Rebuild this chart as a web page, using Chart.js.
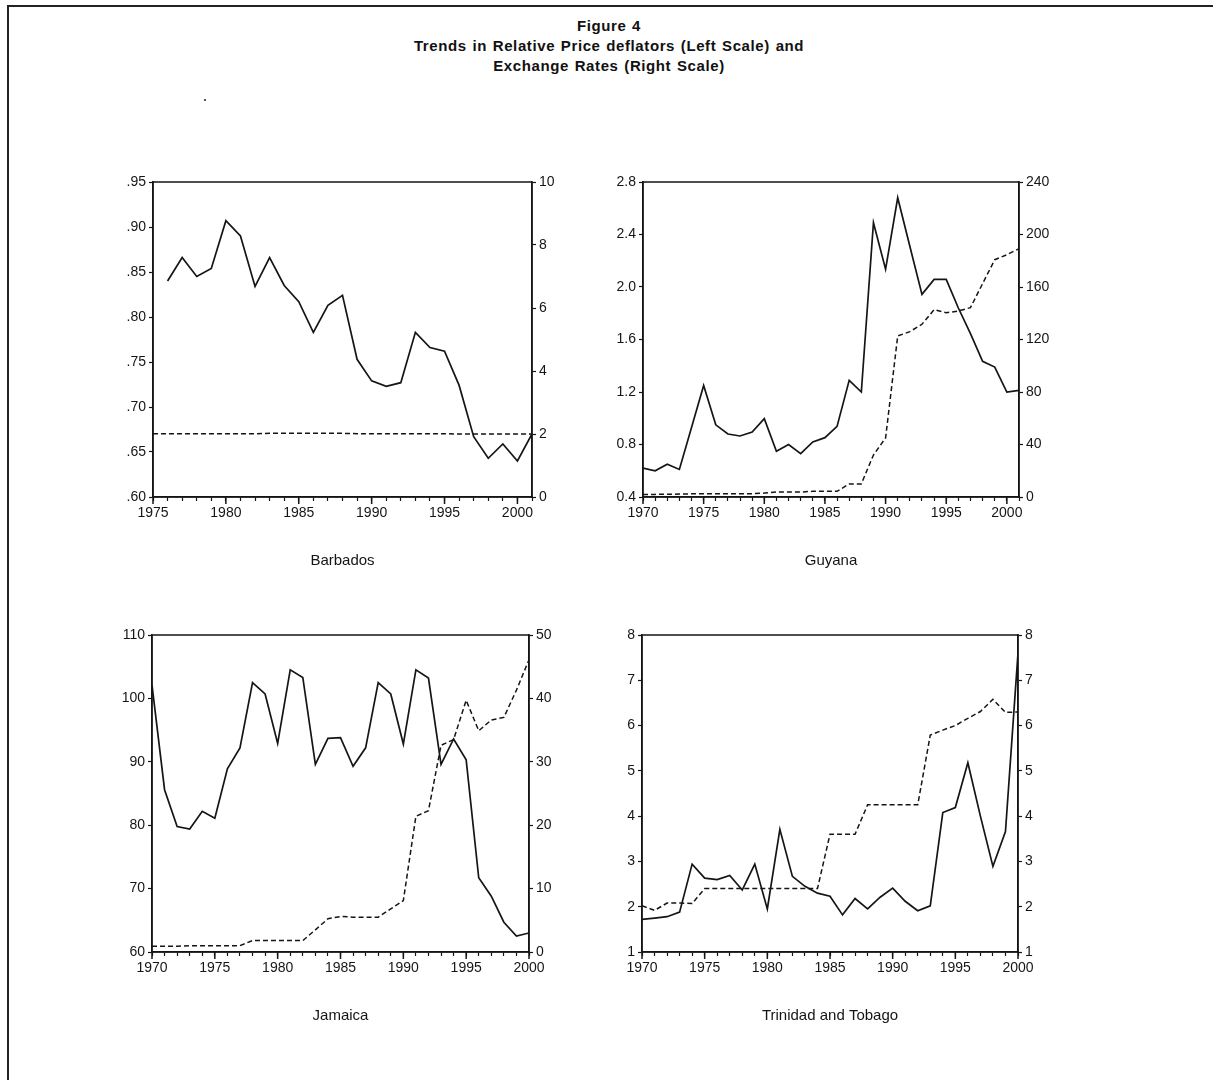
<!DOCTYPE html>
<html>
<head>
<meta charset="utf-8">
<script src="https://cdn.jsdelivr.net/npm/chart.js@4.4.1/dist/chart.umd.min.js"></script>
<style>
    body { margin: 0; background: #fff; width: 1213px; height: 1080px; position: relative; overflow: hidden; font-family: 'Liberation Sans', Arial, sans-serif; }
    #frame { position: absolute; left: 7px; top: 5px; width: 1230px; height: 1100px; border-top: 2px solid #222; border-left: 2px solid #222; }
    #title { position: absolute; left: 0; width: 1218px; top: 16px; text-align: center; font-weight: bold; font-size: 15px; line-height: 20px; letter-spacing: 0.6px; word-spacing: 1px; color: #111; }
    #speck { position: absolute; left: 204px; top: 99px; width: 2px; height: 2px; background: #555; }
    canvas { position: absolute; }
</style>
</head>
<body>
<div id="frame"></div>
<div id="title">Figure 4<br>Trends in Relative Price deflators (Left Scale) and<br>Exchange Rates (Right Scale)</div>
<div id="speck"></div>
<canvas id="barbados"></canvas>
<canvas id="guyana"></canvas>
<canvas id="jamaica"></canvas>
<canvas id="trinidad"></canvas>
<script>
// Years on the x axis
const yearsBarbados = [1975, 1976, 1977, 1978, 1979, 1980, 1981, 1982, 1983, 1984, 1985, 1986, 1987, 1988, 1989,
    1990, 1991, 1992, 1993, 1994, 1995, 1996, 1997, 1998, 1999, 2000, 2001];
const yearsGuyana = [1970, 1971, 1972, 1973, 1974, 1975, 1976, 1977, 1978, 1979, 1980, 1981, 1982, 1983, 1984, 1985,
    1986, 1987, 1988, 1989, 1990, 1991, 1992, 1993, 1994, 1995, 1996, 1997, 1998, 1999, 2000, 2001];
const yearsJamaica = [1970, 1971, 1972, 1973, 1974, 1975, 1976, 1977, 1978, 1979, 1980, 1981, 1982, 1983, 1984, 1985,
    1986, 1987, 1988, 1989, 1990, 1991, 1992, 1993, 1994, 1995, 1996, 1997, 1998, 1999, 2000];
const yearsTrinidad = [1970, 1971, 1972, 1973, 1974, 1975, 1976, 1977, 1978, 1979, 1980, 1981, 1982, 1983, 1984, 1985,
    1986, 1987, 1988, 1989, 1990, 1991, 1992, 1993, 1994, 1995, 1996, 1997, 1998, 1999, 2000];

// Relative price deflators (solid, left scale)
const barbadosDeflator = [null, 0.840, 0.866, 0.845, 0.854, 0.907, 0.890, 0.834, 0.866, 0.835, 0.817, 0.783, 0.813, 0.824,
    0.753, 0.729, 0.723, 0.727, 0.783, 0.766, 0.762, 0.724, 0.667, 0.643, 0.659, 0.640, 0.670];
const guyanaDeflator = [0.62, 0.60, 0.65, 0.61, 0.93, 1.25, 0.95, 0.88, 0.865, 0.895, 0.997, 0.748, 0.80, 0.73, 0.82, 0.852,
    0.938, 1.289, 1.20, 2.49, 2.135, 2.68, 2.31, 1.944, 2.058, 2.058, 1.84, 1.644, 1.434, 1.39, 1.20, 1.213];
const jamaicaDeflator = [102.1, 85.6, 79.8, 79.4, 82.2, 81.1, 88.9, 92.2, 102.5, 100.7, 92.9, 104.5, 103.3, 89.6, 93.7, 93.8,
    89.3, 92.2, 102.5, 100.7, 92.8, 104.5, 103.2, 89.6, 93.6, 90.3, 71.7, 68.8, 64.7, 62.5, 63.0];
const trinidadDeflator = [1.72, 1.75, 1.78, 1.88, 2.94, 2.63, 2.60, 2.69, 2.37, 2.94, 1.95, 3.71, 2.67, 2.45, 2.30, 2.23,
    1.82, 2.18, 1.95, 2.21, 2.41, 2.12, 1.91, 2.02, 4.08, 4.19, 5.18, 4.00, 2.89, 3.66, 7.60];

// Exchange rates (dashed, right scale)
const barbadosRate = [2.01, 2.01, 2.01, 2.01, 2.01, 2.01, 2.01, 2.01, 2.02, 2.02, 2.02, 2.02, 2.02, 2.02, 2.01, 2.01,
    2.01, 2.01, 2.01, 2.01, 2.01, 2.00, 2.00, 2.00, 2.00, 2.00, 2.00];
const guyanaRate = [2.0, 2.0, 2.1, 2.2, 2.4, 2.5, 2.55, 2.55, 2.55, 2.55, 3.0, 3.8, 3.8, 3.8, 4.3, 4.3,
    4.3, 10.0, 10.0, 32, 45, 122.7, 126, 131.6, 142.7, 140.4, 141.7, 144.3, 162.6, 180.8, 184.6, 189.2];
const jamaicaRate = [0.9, 0.9, 0.9, 1.0, 1.0, 1.0, 1.0, 1.0, 1.8, 1.8, 1.8, 1.8, 1.8, 3.5, 5.25, 5.6,
    5.5, 5.5, 5.5, 6.8, 8.1, 21.4, 22.3, 32.6, 33.5, 39.7, 34.9, 36.6, 37.0, 41.3, 46.1];
const trinidadRate = [2.02, 1.92, 2.08, 2.08, 2.07, 2.40, 2.40, 2.40, 2.40, 2.40, 2.40, 2.40, 2.40, 2.40, 2.40, 3.60,
    3.60, 3.60, 4.25, 4.25, 4.25, 4.25, 4.25, 5.79, 5.90, 6.00, 6.16, 6.31, 6.58, 6.29, 6.30];

const INK = '#151515';
const FONT = "'Liberation Sans', Arial, sans-serif";
const TICK_FONT = { family: FONT, size: 14 };

// box around the plot and longer marks on the 5-year ticks
const plotBox = {
    id: 'plotBox',
    afterDraw(chart) {
        const { ctx, chartArea: a, scales } = chart;
        ctx.save();
        ctx.strokeStyle = INK;
        ctx.lineWidth = 1.5;
        ctx.strokeRect(a.left, a.top, a.right - a.left, a.bottom - a.top);
        scales.x.ticks.forEach(t => {
            if (t.value % 5 === 0) {
                const px = scales.x.getPixelForValue(t.value);
                ctx.beginPath();
                ctx.moveTo(px, a.bottom);
                ctx.lineTo(px, a.bottom + 7);
                ctx.stroke();
            }
        });
        ctx.restore();
    }
};

function toPoints(years, values) {
    return years.map((yr, i) => ({ x: yr, y: values[i] }));
}

function yAxis(position, min, max, step, fmt) {
    return {
        position: position,
        min: min,
        max: max,
        afterFit: s => { s.width = 70; },
        border: { color: INK, width: 1.5 },
        grid: { drawOnChartArea: false, drawTicks: true, tickLength: 4, tickColor: INK, tickWidth: 1.2 },
        ticks: { stepSize: step, color: INK, font: TICK_FONT, padding: 3, callback: fmt }
    };
}

function makePanel(id, plot, name, years, deflator, rate, xMax, left, right) {
    const canvas = document.getElementById(id);
    const w = plot.r - plot.l + 140;
    const h = plot.b - plot.t + 120;
    canvas.width = w;
    canvas.height = h;
    canvas.style.left = (plot.l - 70) + 'px';
    canvas.style.top = (plot.t - 20) + 'px';
    canvas.style.width = w + 'px';
    canvas.style.height = h + 'px';

    new Chart(canvas.getContext('2d'), {
        type: 'line',
        data: {
            datasets: [{
                label: 'Relative price deflator',
                data: toPoints(years, deflator),
                yAxisID: 'yL',
                borderColor: INK,
                borderWidth: 1.7,
                pointRadius: 0,
                tension: 0,
                spanGaps: false
            }, {
                label: 'Exchange rate',
                data: toPoints(years, rate),
                yAxisID: 'yR',
                borderColor: INK,
                borderWidth: 1.5,
                borderDash: [5, 3],
                pointRadius: 0,
                tension: 0
            }]
        },
        options: {
            responsive: false,
            animation: false,
            layout: { padding: { top: 20, left: 0, right: 0, bottom: 0 } },
            plugins: { legend: { display: false }, tooltip: { enabled: false } },
            scales: {
                x: {
                    type: 'linear',
                    min: years[0],
                    max: xMax,
                    afterFit: s => { s.height = 100; },
                    border: { color: INK, width: 1.5 },
                    grid: { drawOnChartArea: false, drawTicks: true, tickLength: 4, tickColor: INK, tickWidth: 1.2 },
                    ticks: {
                        stepSize: 1,
                        autoSkip: false,
                        maxRotation: 0,
                        color: INK,
                        font: TICK_FONT,
                        padding: 4,
                        callback: v => (v % 5 === 0 ? String(v) : '')
                    },
                    title: {
                        display: true,
                        text: name,
                        color: INK,
                        font: { family: FONT, size: 15 },
                        padding: { top: 4, bottom: 27 }
                    }
                },
                yL: yAxis('left', left.min, left.max, left.step, left.fmt),
                yR: yAxis('right', right.min, right.max, right.step, right.fmt)
            }
        },
        plugins: [plotBox]
    });
}

const noLeadZero = v => v.toFixed(2).replace(/^0/, '');
const oneDecimal = v => v.toFixed(1);
const whole = v => String(Math.round(v));

makePanel('barbados', { l: 153, t: 182, r: 532, b: 497 }, 'Barbados', yearsBarbados, barbadosDeflator, barbadosRate, 2001,
    { min: 0.60, max: 0.95, step: 0.05, fmt: noLeadZero }, { min: 0, max: 10, step: 2, fmt: whole });
makePanel('guyana', { l: 643, t: 182, r: 1019, b: 497 }, 'Guyana', yearsGuyana, guyanaDeflator, guyanaRate, 2001,
    { min: 0.4, max: 2.8, step: 0.4, fmt: oneDecimal }, { min: 0, max: 240, step: 40, fmt: whole });
makePanel('jamaica', { l: 152, t: 635, r: 529, b: 952 }, 'Jamaica', yearsJamaica, jamaicaDeflator, jamaicaRate, 2000,
    { min: 60, max: 110, step: 10, fmt: whole }, { min: 0, max: 50, step: 10, fmt: whole });
makePanel('trinidad', { l: 642, t: 635, r: 1018, b: 952 }, 'Trinidad and Tobago', yearsTrinidad, trinidadDeflator, trinidadRate, 2000,
    { min: 1, max: 8, step: 1, fmt: whole }, { min: 1, max: 8, step: 1, fmt: whole });
</script>
</body>
</html>
